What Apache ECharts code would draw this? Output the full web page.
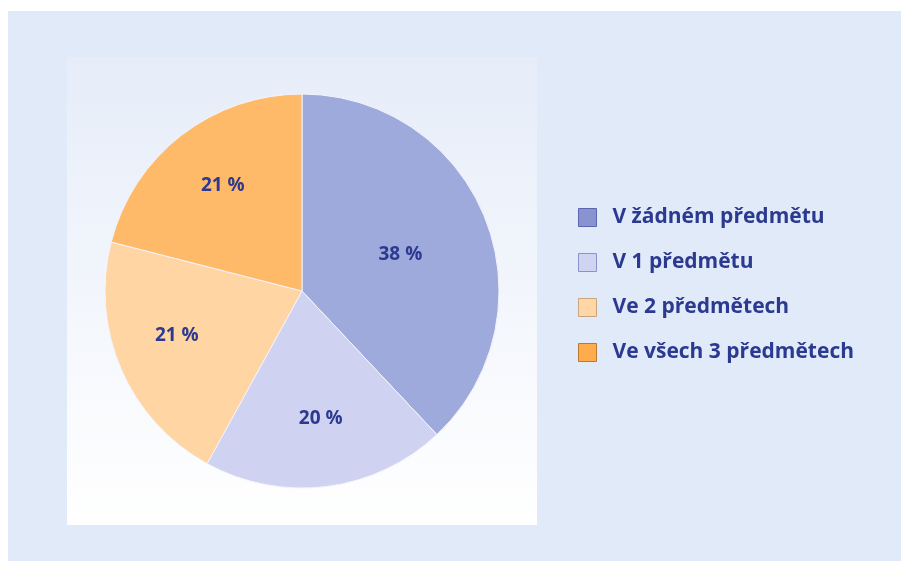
<!DOCTYPE html>
<html lang="cs">
<head>
    <meta charset="UTF-8">
    <title>Předměty</title>
    <style>
        html, body { margin: 0; padding: 0; background: #ffffff; }
        #chart { width: 901px; height: 562px; }
    </style>
    <script src="https://cdn.jsdelivr.net/npm/echarts@6/dist/echarts.min.js"></script>
</head>
<body>
    <div id="chart"></div>
    <script>
        // data
        var categories = ['V žádném předmětu', 'V 1 předmětu', 'Ve 2 předmětech', 'Ve všech 3 předmětech'];
        var values = [38, 20, 21, 21];

        // styles
        var sliceColors = ['#9ea9dc', '#cfd2f1', '#fed5a3', '#feba68'];
        var legendColors = ['#8893cf', '#d0d3f2', '#ffd6a6', '#ffac4c'];
        var legendBorders = ['#5a66b0', '#8a92cc', '#c9a67e', '#b97a30'];
        var labelShift = [[4, 1], [6, 27], [-32, 4], [-17, -25]];
        var textColor = '#2b3a90';

        var chart = echarts.init(document.getElementById('chart'));

        var pieData = categories.map(function (name, i) {
            return {
                name: name,
                value: values[i],
                itemStyle: { color: sliceColors[i] },
                label: { offset: labelShift[i] }
            };
        });

        var legendData = categories.map(function (name, i) {
            return {
                name: name,
                itemStyle: { color: legendColors[i], borderColor: legendBorders[i], borderWidth: 1 }
            };
        });

        var option = {
            animation: false,
            graphic: [
                {
                    type: 'rect', z: -10,
                    shape: { x: 8, y: 11, width: 893, height: 550 },
                    style: { fill: '#e1eaf8' }
                },
                {
                    type: 'rect', z: -9,
                    shape: { x: 67, y: 57, width: 470, height: 468 },
                    style: {
                        fill: new echarts.graphic.LinearGradient(0, 0, 0, 1, [
                            { offset: 0, color: '#e6edf9' },
                            { offset: 1, color: '#ffffff' }
                        ])
                    }
                }
            ],
            legend: {
                orient: 'vertical',
                left: 578,
                top: 207,
                padding: 0,
                itemWidth: 18,
                itemHeight: 18,
                itemGap: 24,
                icon: 'rect',
                data: legendData,
                textStyle: {
                    color: textColor,
                    fontFamily: 'Open Sans',
                    fontWeight: 'bold',
                    fontSize: 21,
                    padding: [0, 0, 0, 11]
                }
            },
            series: [
                {
                    type: 'pie',
                    center: [302, 291],
                    radius: 197,
                    startAngle: 90,
                    clockwise: true,
                    legendHoverLink: false,
                    data: pieData,
                    itemStyle: { borderColor: '#f4f4fb', borderWidth: 1 },
                    label: {
                        show: true,
                        position: 'inside',
                        formatter: '{c} %',
                        color: textColor,
                        fontFamily: 'Open Sans',
                        fontWeight: 'bold',
                        fontSize: 19
                    },
                    labelLine: { show: false }
                }
            ]
        };

        chart.setOption(option);
    </script>
</body>
</html>
